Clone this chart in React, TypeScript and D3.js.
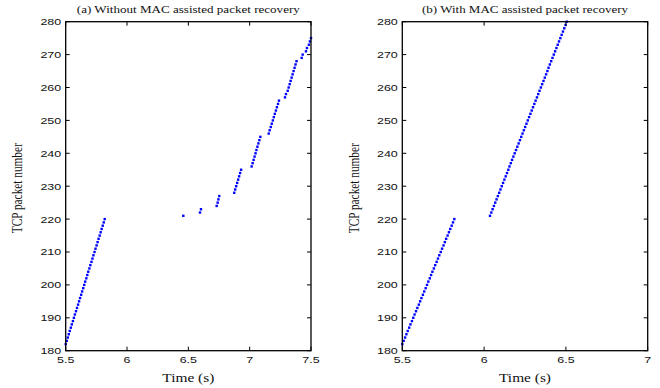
import React from "react";
import * as d3 from "d3";

// Packet numbers and their arrival times (s)
const seg1Packets = d3.range(182, 221);
const seg1Times = [
  5.500, 5.508, 5.517, 5.525, 5.533, 5.542, 5.550, 5.559, 5.567, 5.575,
  5.584, 5.592, 5.601, 5.609, 5.617, 5.626, 5.634, 5.643, 5.651, 5.659,
  5.668, 5.676, 5.684, 5.693, 5.701, 5.710, 5.718, 5.726, 5.735, 5.743,
  5.752, 5.760, 5.768, 5.777, 5.785, 5.793, 5.802, 5.810, 5.818,
];

const leftLatePackets = d3.range(221, 276);
const leftLateTimes = [
  6.459, 6.595, 6.603, 6.731, 6.739, 6.745, 6.752, 6.874, 6.882, 6.890,
  6.898, 6.906, 6.914, 6.922, 6.930, 7.016, 7.024, 7.032, 7.040, 7.048,
  7.055, 7.063, 7.071, 7.079, 7.087, 7.155, 7.163, 7.172, 7.180, 7.189,
  7.197, 7.205, 7.214, 7.222, 7.231, 7.239, 7.288, 7.296, 7.310, 7.318,
  7.326, 7.334, 7.342, 7.350, 7.358, 7.366, 7.374, 7.382, 7.424, 7.432,
  7.459, 7.467, 7.483, 7.491, 7.500,
];

const rightLatePackets = d3.range(221, 281);
const rightLateTimes = [
  6.036, 6.044, 6.052, 6.060, 6.068, 6.076, 6.084, 6.092, 6.100, 6.108,
  6.116, 6.124, 6.132, 6.140, 6.148, 6.155, 6.163, 6.171, 6.179, 6.187,
  6.195, 6.203, 6.211, 6.219, 6.227, 6.235, 6.243, 6.251, 6.259, 6.267,
  6.275, 6.283, 6.291, 6.299, 6.307, 6.315, 6.323, 6.331, 6.339, 6.347,
  6.355, 6.363, 6.371, 6.379, 6.387, 6.394, 6.402, 6.410, 6.418, 6.426,
  6.434, 6.442, 6.450, 6.458, 6.466, 6.474, 6.482, 6.490, 6.498, 6.506,
];

const leftXTicks = [5.5, 6, 6.5, 7, 7.5];
const rightXTicks = [5.5, 6, 6.5, 7];
const yTicks = [180, 190, 200, 210, 220, 230, 240, 250, 260, 270, 280];

const titleA = "(a) Without MAC assisted packet recovery";
const titleB = "(b) With MAC assisted packet recovery";
const xLabel = "Time (s)";
const yLabel = "TCP packet number";

type Pt = { t: number; p: number };
const zip = (ts: number[], ps: number[]): Pt[] => ts.map((t, i) => ({ t, p: ps[i] }));

const leftData = [...zip(seg1Times, seg1Packets), ...zip(leftLateTimes, leftLatePackets)];
const rightData = [...zip(seg1Times, seg1Packets), ...zip(rightLateTimes, rightLatePackets)];

const TOP = 21.7;
const BOTTOM = 350.7;
const TICK = 4;
const SX = 1.3;
const sans = "Liberation Sans, Arial, sans-serif";
const serif = "Liberation Serif, Times New Roman, serif";

function SText({ x, y, sx, anchor, font, size, children }: any) {
  return (
    <text
      transform={`translate(${x},${y}) scale(${sx},1)`}
      textAnchor={anchor}
      fontFamily={font}
      fontSize={size}
      fill="#111"
    >{children}</text>
  );
}

function Panel({
  x0, x1, domain, xTicks, data, title, titleW, yLabelX,
}: {
  x0: number; x1: number; domain: [number, number]; xTicks: number[];
  data: Pt[]; title: string; titleW: number; yLabelX: number;
}) {
  const x = d3.scaleLinear().domain(domain).range([x0, x1]);
  const y = d3.scaleLinear().domain([180, 280]).range([BOTTOM, TOP]);
  const cx = (x0 + x1) / 2;
  return (
    <g>
      {data.map((d, i) => (
        <rect key={i} x={x(d.t) - 1.2} y={y(d.p) - 1.2} width={2.4} height={2.4} fill="#0000ff" />
      ))}
      {xTicks.map((t) => (
        <g key={t}>
          <line x1={x(t)} x2={x(t)} y1={BOTTOM} y2={BOTTOM - TICK} stroke="black" strokeWidth={1} />
          <line x1={x(t)} x2={x(t)} y1={TOP} y2={TOP + TICK} stroke="black" strokeWidth={1} />
          <SText x={x(t)} y={363.3} sx={SX} anchor="middle" font={sans} size={9.6}>{t}</SText>
        </g>
      ))}
      {yTicks.map((t) => (
        <g key={t}>
          <line x1={x0} x2={x0 + TICK} y1={y(t)} y2={y(t)} stroke="black" strokeWidth={1} />
          <line x1={x1} x2={x1 - TICK} y1={y(t)} y2={y(t)} stroke="black" strokeWidth={1} />
          <SText x={x0 - 4.5} y={y(t) + 3.4} sx={SX} anchor="end" font={sans} size={9.6}>{t}</SText>
        </g>
      ))}
      <rect x={x0} y={TOP} width={x1 - x0} height={BOTTOM - TOP} fill="none" stroke="black" strokeWidth={1.3} />
      <text x={cx} y={13} textAnchor="middle" fontFamily={serif} fontSize={9.8}
        textLength={titleW} lengthAdjust="spacingAndGlyphs" fill="#111">{title}</text>
      <text x={cx} y={381.5} textAnchor="middle" fontFamily={serif} fontSize={12}
        textLength={52} lengthAdjust="spacingAndGlyphs" fill="#111">{xLabel}</text>
      <text
        transform={`translate(${yLabelX},${(TOP + BOTTOM) / 2 + 2}) scale(1.2,1) rotate(-90)`}
        textAnchor="middle" fontFamily={serif} fontSize={11.3}
        textLength={90} lengthAdjust="spacingAndGlyphs" fill="#111"
      >{yLabel}</text>
    </g>
  );
}

export default function App() {
  return (
    <svg width={660} height={388} style={{ position: "absolute", left: 0, top: 0, background: "white" }}>
      <rect width={660} height={388} fill="white" />
      <Panel x0={65.7} x1={311} domain={[5.5, 7.5]} xTicks={leftXTicks} data={leftData}
        title={titleA} titleW={223} yLabelX={22} />
      <Panel x0={402.3} x1={647.7} domain={[5.5, 7]} xTicks={rightXTicks} data={rightData}
        title={titleB} titleW={206} yLabelX={359} />
    </svg>
  );
}
